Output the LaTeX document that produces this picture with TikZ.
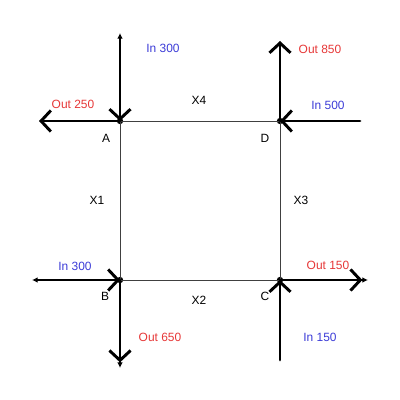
\documentclass[tikz,border=0pt]{standalone}
\usepackage{fontspec}
\setmainfont{Liberation Sans}
\usetikzlibrary{positioning,arrows.meta}
\definecolor{inblue}{RGB}{60,60,215}
\definecolor{outred}{RGB}{230,55,55}
\tikzstyle{corner} = [circle, fill=black, inner sep=0pt, minimum size=4.5pt]
\tikzstyle{edge} = [line width=0.6pt, draw=black!75]
\tikzstyle{flow} = [line width=2.1pt, line cap=round]
\tikzstyle{lbl} = [font=\fontsize{8.5}{10}\selectfont, inner sep=1pt]
\tikzstyle{inlbl} = [lbl, text=inblue]
\tikzstyle{outlbl} = [lbl, text=outred]
\begin{document}
\begin{tikzpicture}[x=0.025cm, y=-0.025cm]
		\useasboundingbox (0,0) rectangle (400,400);

		% Junctions
		\node[corner] (A) at (120,121) {};
		\node[corner] (D) at (280,121) {};
		\node[corner] (B) at (120,280) {};
		\node[corner] (C) at (280,280) {};

		% Free ends of the flows
		\coordinate (inA) at (120,33);
		\coordinate (outA) at (39,121);
		\coordinate (outD) at (280,41);
		\coordinate (inD) at (360,121);
		\coordinate (inB) at (32,280);
		\coordinate (outB) at (120,368);
		\coordinate (outC) at (368,280);
		\coordinate (inC) at (280,360);

		% Streets
		\draw[edge] (A.center) -- (D.center) -- (C.center) -- (B.center) -- cycle;

		% Flows
		\draw[flow, {Latex[length=4pt, width=4pt]}-{Straight Barb[length=7pt, width=15pt]}] (inA) -- (A.center);
		\draw[flow, -{Straight Barb[length=7pt, width=15pt]}] (A.center) -- (outA);
		\draw[flow, -{Straight Barb[length=7pt, width=15pt]}] (D.center) -- (outD);
		\draw[flow, -{Straight Barb[length=7pt, width=15pt]}] (inD) -- (D.center);
		\draw[flow, {Latex[length=4pt, width=4pt]}-{Straight Barb[length=7pt, width=15pt]}] (inB) -- (B.center);
		\draw[flow, -{Straight Barb[length=7pt, width=15pt] Latex[length=4pt, width=4pt]}] (B.center) -- (outB);
		\draw[flow, -{Straight Barb[length=7pt, width=15pt] Latex[length=4pt, width=4pt]}] (C.center) -- (outC);
		\draw[flow, -{Straight Barb[length=7pt, width=15pt]}] (inC) -- (C.center);

		% Labels
		\node[lbl] (labA) at (106,138) {A};
		\node[lbl] (labD) at (265,138) {D};
		\node[lbl] (labB) at (105,296) {B};
		\node[lbl] (labC) at (265,296) {C};
		\node[lbl] (x4) at (199,100) {X4};
		\node[lbl] (x1) at (97,200) {X1};
		\node[lbl] (x3) at (301,200) {X3};
		\node[lbl] (x2) at (199,300) {X2};

		\node[inlbl] (in300a) at (163,48) {In 300};
		\node[outlbl] (out250) at (73,104) {Out 250};
		\node[outlbl] (out850) at (320,49) {Out 850};
		\node[inlbl] (in500) at (328,105) {In 500};
		\node[inlbl] (in300b) at (75,266) {In 300};
		\node[outlbl] (out150) at (328,265) {Out 150};
		\node[outlbl] (out650) at (160,337) {Out 650};
		\node[inlbl] (in150) at (320,337) {In 150};
	\end{tikzpicture}
\end{document}
